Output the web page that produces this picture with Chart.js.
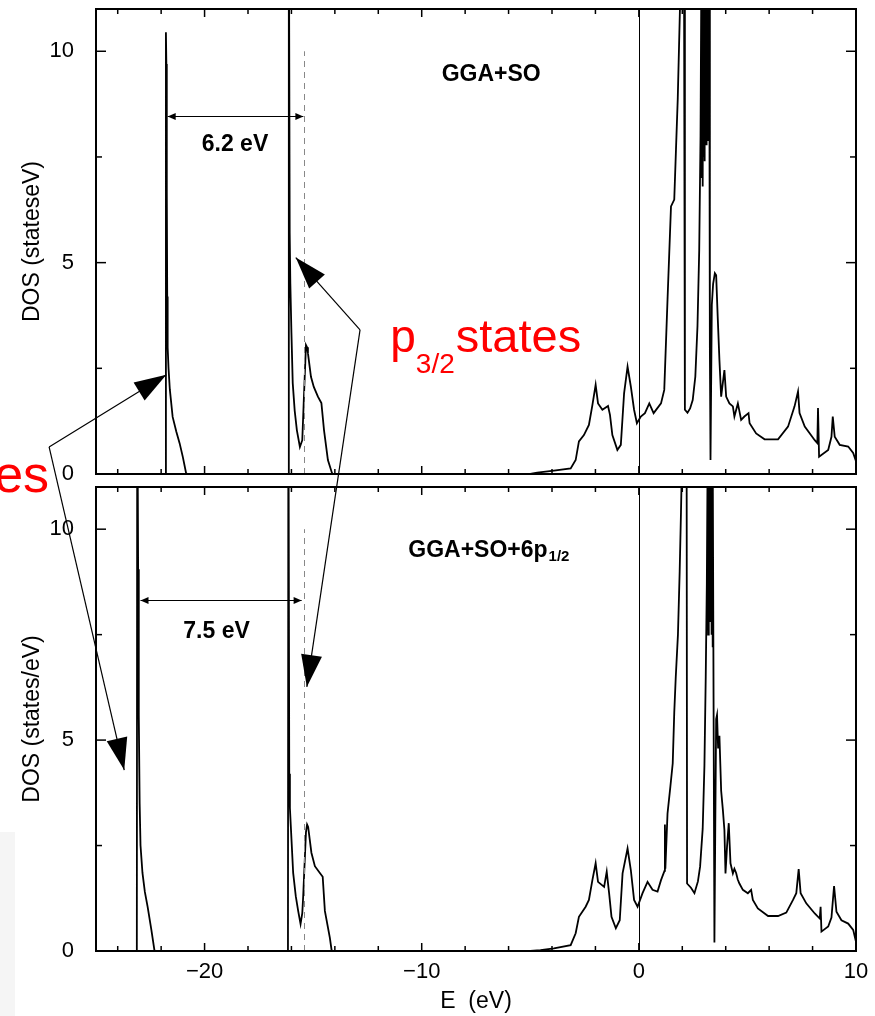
<!DOCTYPE html>
<html>
<head>
<meta charset="utf-8">
<script src="https://cdn.jsdelivr.net/npm/chart.js@4.4.1/dist/chart.umd.min.js"></script>
<style>
  html, body { margin: 0; padding: 0; background: #fff; }
  #wrap { position: relative; width: 875px; height: 1016px; overflow: hidden; }
  #wrap canvas { position: absolute; left: 0; }
  #cTop { top: 0; }
  #cBot { top: 480px; }
  #cOver { top: 0; pointer-events: none; }
  #shade { position: absolute; left: 0; top: 832px; width: 15px; height: 184px; background: #f5f5f5; }
</style>
</head>
<body>
<div id="wrap">
  <div id="shade"></div>
  <canvas id="cTop" width="875" height="480"></canvas>
  <canvas id="cBot" width="875" height="536"></canvas>
  <canvas id="cOver" width="875" height="1016"></canvas>
</div>
<script>
const FONT = "'Liberation Sans', Arial, Helvetica, sans-serif";
Chart.defaults.font.family = FONT;
Chart.defaults.color = '#000';

// axes
const X_MIN = -25, X_MAX = 10, Y_MIN = 0, Y_MAX = 11;
const xLabelTicks = [-20, -10, 0, 10];
const yLabelTicks = [0, 5, 10];
const xTickMarks = [-24, -22, -20, -18, -16, -14, -12, -10, -8, -6, -4, -2, 0, 2, 4, 6, 8];
const yTickMarks = [0, 2.5, 5, 7.5, 10];

// GGA+SO, [E (eV), DOS]
const topCoreDos = [
  [-25, 0], [-21.8, 0], [-21.78, 10.45], [-21.76, 9.7], [-21.74, 6.7], [-21.72, 4.2], [-21.7, 3.0],
  [-21.66, 2.5], [-21.6, 2.0], [-21.47, 1.35], [-21.3, 1.0], [-21.15, 0.73], [-21.0, 0.4], [-20.85, 0.02],
  [-20.8, 0], [-16.14, 0], [-16.12, 14], [-16.08, 5.7], [-16.05, 4.5], [-16.0, 3.34], [-15.94, 2.15],
  [-15.85, 1.5], [-15.75, 1.04], [-15.61, 0.64], [-15.5, 0.8], [-15.43, 1.75], [-15.33, 3.05], [-15.28, 3.0],
  [-15.24, 2.86], [-15.1, 2.3], [-14.97, 2.06], [-14.78, 1.83], [-14.62, 1.68], [-14.5, 1.04], [-14.32, 0.33],
  [-14.13, 0.02], [-14.1, 0],
];
const topValenceDos = [
  [-5.0, 0], [-4.68, 0.03], [-3.91, 0.08], [-3.14, 0.13], [-2.91, 0.33], [-2.76, 0.77], [-2.53, 0.92],
  [-2.3, 1.16], [-2.14, 1.63], [-1.99, 2.11], [-1.88, 1.67], [-1.68, 1.52], [-1.42, 1.61], [-1.33, 1.4],
  [-1.22, 0.92], [-0.99, 0.57], [-0.83, 0.69], [-0.68, 1.91], [-0.52, 2.54], [-0.37, 2.07], [-0.22, 1.52],
  [-0.09, 1.2], [0.09, 1.36], [0.28, 1.44], [0.48, 1.67], [0.68, 1.44], [1.02, 1.67], [1.17, 1.99],
  [1.32, 4.12], [1.48, 6.33], [1.63, 6.49], [1.71, 7.68], [1.79, 8.86], [1.94, 12], [2.08, 12], [2.12, 1.52],
  [2.24, 1.45], [2.36, 1.55], [2.48, 1.75], [2.6, 2.3], [2.7, 3.5], [2.78, 5.3], [2.84, 8.0], [2.88, 12],
  [2.9, 7.0], [2.92, 12], [2.94, 6.8], [2.96, 12], [2.98, 7.5], [3.0, 12], [3.02, 7.4], [3.04, 12],
  [3.06, 7.8], [3.08, 12], [3.1, 7.8], [3.12, 12], [3.14, 7.9], [3.16, 12], [3.18, 7.9], [3.2, 12],
  [3.22, 8.5], [3.24, 12], [3.27, 3.0], [3.3, 0.33], [3.36, 4.0], [3.42, 4.5], [3.5, 4.75], [3.56, 4.7],
  [3.63, 3.73], [3.71, 2.7], [3.79, 1.83], [3.94, 2.46], [4.02, 1.83], [4.17, 1.67], [4.33, 1.6], [4.4, 1.36],
  [4.56, 1.67], [4.71, 1.28], [4.86, 1.36], [5.05, 1.44], [5.1, 1.2], [5.4, 0.96], [5.79, 0.82], [6.41, 0.82],
  [6.87, 1.12], [7.17, 1.6], [7.33, 1.95], [7.4, 1.44], [7.64, 1.12], [8.1, 0.8], [8.22, 0.73], [8.25, 1.56],
  [8.3, 0.41], [8.72, 0.57], [8.87, 0.88], [8.93, 1.36], [9.02, 0.88], [9.25, 0.69], [9.64, 0.65], [9.87, 0.5],
  [10.0, 0.3],
];

// GGA+SO+6p1/2
const botCoreDos = [
  [-25, 0], [-23.12, 0], [-23.1, 14], [-23.06, 9.05], [-23.03, 5.6], [-22.99, 3.5], [-22.95, 2.5],
  [-22.86, 1.85], [-22.75, 1.4], [-22.62, 1.04], [-22.45, 0.5], [-22.31, 0.02], [-22.28, 0],
  [-16.16, 0], [-16.14, 14], [-16.1, 4.2], [-16.07, 3.39], [-15.92, 1.85], [-15.8, 1.3], [-15.69, 0.95],
  [-15.58, 0.64], [-15.5, 0.9], [-15.46, 1.28], [-15.33, 2.82], [-15.28, 3.0], [-15.23, 2.94], [-15.08, 2.33],
  [-14.92, 2.01], [-14.69, 1.85], [-14.56, 1.76], [-14.46, 0.95], [-14.23, 0.31], [-14.15, 0.02], [-14.1, 0],
];
const botValenceDos = [
  [-5.0, 0], [-4.53, 0.02], [-3.91, 0.06], [-3.14, 0.14], [-2.91, 0.42], [-2.76, 0.81], [-2.45, 1.05],
  [-2.3, 1.21], [-2.14, 1.68], [-1.99, 2.08], [-1.88, 1.64], [-1.6, 1.52], [-1.48, 1.88], [-1.37, 1.37],
  [-1.26, 0.81], [-1.06, 0.54], [-0.88, 0.73], [-0.75, 1.84], [-0.52, 2.43], [-0.37, 1.92], [-0.22, 1.21],
  [-0.06, 1.05], [0.17, 1.37], [0.4, 1.64], [0.63, 1.45], [0.86, 1.41], [1.02, 1.68], [1.18, 1.9], [1.2, 3.0],
  [1.22, 1.95], [1.32, 3.26], [1.45, 3.89], [1.56, 4.45], [1.63, 5.65], [1.7, 6.5], [1.8, 7.5], [1.88, 9.0],
  [1.94, 10.4], [2.0, 12], [2.2, 12], [2.22, 1.6], [2.4, 1.5], [2.56, 1.37], [2.72, 1.65], [2.82, 2.0],
  [2.94, 2.9], [3.02, 4.4], [3.08, 6.5], [3.13, 8.7], [3.17, 12], [3.19, 7.5], [3.21, 12], [3.23, 8.0],
  [3.25, 12], [3.27, 7.8], [3.29, 12], [3.31, 8.0], [3.33, 12], [3.35, 7.5], [3.37, 12], [3.39, 7.2],
  [3.41, 12], [3.44, 6.0], [3.48, 0.2], [3.52, 3.0], [3.56, 5.5], [3.6, 5.6], [3.65, 4.8], [3.71, 5.1],
  [3.79, 3.8], [3.87, 3.34], [3.94, 2.87], [3.99, 1.84], [4.06, 2.47], [4.14, 3.03], [4.22, 2.08], [4.33, 1.84],
  [4.4, 1.95], [4.48, 1.85], [4.55, 1.7], [4.63, 1.6], [4.79, 1.45], [5.02, 1.37], [5.17, 1.45], [5.25, 1.21],
  [5.48, 1.01], [5.95, 0.83], [6.41, 0.83], [6.79, 0.91], [7.1, 1.21], [7.25, 1.37], [7.36, 1.94], [7.45, 1.37],
  [7.71, 1.13], [8.1, 0.89], [8.33, 0.77], [8.37, 1.05], [8.41, 0.46], [8.72, 0.58], [8.87, 0.79], [8.99, 1.54],
  [9.1, 0.93], [9.33, 0.73], [9.64, 0.65], [9.87, 0.5], [10.0, 0.22],
];

// annotations (data coordinates)
const dashE = -15.42, dashTop = 10;
const topGap = [-21.7, -15.45, 8.46];
const botGap = [-22.95, -15.53, 8.32];
const topGapLabel = ['6.2 eV', -18.6, 7.8];
const botGapLabel = ['7.5 eV', -19.45, 7.56];
const topPanelLabel = ['GGA+SO', '', -6.8, 9.45, 'center'];
const botPanelLabel = ['GGA+SO+6p', '1/2', -10.62, 9.5, 'left'];
// cross-panel arrows: tail in top-panel coords, tips in their own panel
const p12Tail = [-27.16, 0.64];
const p12TipTop = [-21.76, 2.35];
const p12TipBot = [-23.7, 4.29];
const p32Tail = [-12.84, 3.41];
const p32TipTop = [-15.8, 5.12];
const p32TipBot = [-15.29, 6.26];
const p32LabelAt = [-11.45, 2.89];
const p12LabelAt = [-27.16, -0.43];

function seg(ctx, x0, y0, x1, y1) {
  ctx.beginPath(); ctx.moveTo(x0, y0); ctx.lineTo(x1, y1); ctx.stroke();
}
function head(ctx, tipX, tipY, fromX, fromY, len, half) {
  const ang = Math.atan2(tipY - fromY, tipX - fromX);
  const bx = tipX - len * Math.cos(ang), by = tipY - len * Math.sin(ang);
  const nx = -Math.sin(ang) * half, ny = Math.cos(ang) * half;
  ctx.beginPath();
  ctx.moveTo(tipX, tipY); ctx.lineTo(bx + nx, by + ny); ctx.lineTo(bx - nx, by - ny);
  ctx.closePath(); ctx.fill();
}

const panelDecor = {
  id: 'panelDecor',
  afterDatasetsDraw(chart, args, o) {
    const { ctx, chartArea: a } = chart;
    const x = chart.scales.x, y = chart.scales.y;
    ctx.save();
    ctx.fillStyle = '#000';
    ctx.strokeStyle = '#000';
    ctx.lineWidth = 1;
    const xf = Math.round(x.getPixelForValue(0)) + 0.5;
    seg(ctx, xf, a.top, xf, a.bottom);

    ctx.strokeStyle = '#888';
    ctx.setLineDash([6, 5]);
    const xd = Math.round(x.getPixelForValue(dashE)) + 0.5;
    seg(ctx, xd, y.getPixelForValue(0), xd, y.getPixelForValue(dashTop));
    ctx.setLineDash([]);

    ctx.strokeStyle = '#000';
    const [g0, g1, gy] = o.gap;
    const ax0 = x.getPixelForValue(g0), ax1 = x.getPixelForValue(g1);
    const ay = Math.round(y.getPixelForValue(gy)) + 0.5;
    seg(ctx, ax0, ay, ax1, ay);
    head(ctx, ax0, ay, ax1, ay, 8, 3.5);
    head(ctx, ax1, ay, ax0, ay, 8, 3.5);

    ctx.font = `bold 23px ${FONT}`;
    ctx.textBaseline = 'middle';
    ctx.textAlign = 'center';
    ctx.fillText(o.gapLabel[0], x.getPixelForValue(o.gapLabel[1]), y.getPixelForValue(o.gapLabel[2]));

    const [main, sub, le, ld, align] = o.panelLabel;
    ctx.textAlign = align;
    const lx = x.getPixelForValue(le), ly = y.getPixelForValue(ld);
    ctx.fillText(main, lx, ly);
    if (sub) {
      const w = ctx.measureText(main).width;
      ctx.font = `bold 15px ${FONT}`;
      ctx.textAlign = 'left';
      ctx.fillText(sub, lx + w + 1, ly + 7);
    }

    ctx.lineWidth = 2;
    ctx.strokeRect(a.left, a.top, a.width, a.height);
    ctx.lineWidth = 1.5;
    xTickMarks.forEach((v) => {
      const px = x.getPixelForValue(v);
      const len = v % 10 === 0 ? 8 : 5;
      seg(ctx, px, a.bottom, px, a.bottom - len);
      seg(ctx, px, a.top, px, a.top + len);
    });
    yTickMarks.forEach((v) => {
      const py = y.getPixelForValue(v);
      const len = v % 5 === 0 ? 10 : 6;
      seg(ctx, a.left, py, a.left + len, py);
      seg(ctx, a.right, py, a.right - len, py);
    });
    ctx.restore();
  },
};

function toPoints(...parts) {
  return parts.flat().map(([e, d]) => ({ x: e, y: d }));
}

function panelChart(canvasId, points, cfg) {
  return new Chart(document.getElementById(canvasId), {
    type: 'line',
    data: {
      datasets: [{
        data: points,
        borderColor: '#000',
        borderWidth: 1.8,
        pointRadius: 0,
        fill: false,
        tension: 0,
      }],
    },
    options: {
      responsive: false,
      animation: false,
      devicePixelRatio: 1,
      layout: { padding: { top: cfg.padTop, right: 19, bottom: 0, left: 0 } },
      plugins: {
        legend: { display: false },
        tooltip: { enabled: false },
        panelDecor: cfg.decor,
      },
      scales: {
        x: {
          type: 'linear',
          min: X_MIN,
          max: X_MAX,
          grid: { display: false },
          border: { display: false },
          afterBuildTicks: (s) => { s.ticks = xLabelTicks.map((v) => ({ value: v })); },
          ticks: {
            display: cfg.showX,
            font: { size: 22 },
            padding: 0,
            color: '#000',
            maxRotation: 0,
            autoSkip: false,
            callback: (v) => String(v).replace('-', '\u2212'),
          },
          title: {
            display: cfg.showX,
            text: 'E  (eV)',
            font: { size: 23 },
            color: '#000',
            padding: { top: 0, bottom: 1 },
          },
          afterFit: (s) => { s.height = cfg.xHeight; s.paddingLeft = 0; s.paddingRight = 0; },
        },
        y: {
          type: 'linear',
          min: Y_MIN,
          max: Y_MAX,
          grid: { display: false },
          border: { display: false },
          afterBuildTicks: (s) => { s.ticks = yLabelTicks.map((v) => ({ value: v })); },
          ticks: { font: { size: 22 }, padding: 14, color: '#000' },
          title: {
            display: true,
            text: cfg.yTitle,
            font: { size: 23 },
            color: '#000',
            padding: { top: 19, bottom: 0 },
          },
          afterFit: (s) => { s.width = 96; s.paddingTop = 0; s.paddingBottom = 0; },
        },
      },
    },
    plugins: [panelDecor],
  });
}

const topChart = panelChart('cTop', toPoints(topCoreDos, topValenceDos), {
  padTop: 9, xHeight: 6, showX: false, yTitle: 'DOS (stateseV)',
  decor: { gap: topGap, gapLabel: topGapLabel, panelLabel: topPanelLabel },
});
const botChart = panelChart('cBot', toPoints(botCoreDos, botValenceDos), {
  padTop: 7, xHeight: 65, showX: true, yTitle: 'DOS (states/eV)',
  decor: { gap: botGap, gapLabel: botGapLabel, panelLabel: botPanelLabel },
});

function drawOverlay() {
  const ctx = document.getElementById('cOver').getContext('2d');
  const botTop = 480;
  const pt = (e, d) => [topChart.scales.x.getPixelForValue(e), topChart.scales.y.getPixelForValue(d)];
  const pb = (e, d) => [botChart.scales.x.getPixelForValue(e), botChart.scales.y.getPixelForValue(d) + botTop];

  ctx.strokeStyle = '#000';
  ctx.fillStyle = '#000';
  ctx.lineWidth = 1.2;
  const arrows = [
    [pt(...p12Tail), pt(...p12TipTop)],
    [pt(...p12Tail), pb(...p12TipBot)],
    [pt(...p32Tail), pt(...p32TipTop)],
    [pt(...p32Tail), pb(...p32TipBot)],
  ];
  arrows.forEach(([[x0, y0], [x1, y1]]) => {
    seg(ctx, x0, y0, x1, y1);
    head(ctx, x1, y1, x0, y0, 32, 10.5);
  });

  ctx.fillStyle = '#ff0000';
  ctx.textBaseline = 'alphabetic';
  ctx.textAlign = 'left';
  const [lx, ly] = pt(...p32LabelAt);
  ctx.font = `46px ${FONT}`;
  ctx.fillText('p', lx, ly);
  const wp = ctx.measureText('p').width;
  ctx.font = `28px ${FONT}`;
  ctx.fillText('3/2', lx + wp, ly + 21);
  const ws = ctx.measureText('3/2').width;
  ctx.font = `47px ${FONT}`;
  ctx.fillText('states', lx + wp + ws + 1, ly);

  const [ex, ey] = pt(...p12LabelAt);
  ctx.font = `52px ${FONT}`;
  ctx.textAlign = 'right';
  ctx.fillText('es', ex, ey);
}
drawOverlay();
</script>
</body>
</html>
